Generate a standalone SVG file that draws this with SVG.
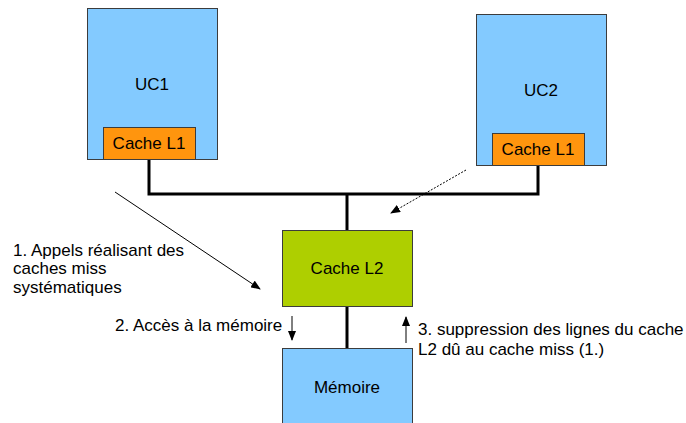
<svg xmlns="http://www.w3.org/2000/svg" width="686" height="423" viewBox="0 0 686 423">
<style>
.box{stroke:#3c3c3c;stroke-width:1}
.blue{fill:#83caff}
.orange{fill:#ff950e}
.green{fill:#aecf00}
.t{font-family:"Liberation Sans",Arial,sans-serif;font-size:17px;fill:#000}
.c{text-anchor:middle}
.bus{stroke:#000;stroke-width:3;fill:none}
.thin{stroke:#000;stroke-width:1;fill:none}
</style>
<defs>
<marker id="ah" markerWidth="10" markerHeight="8" refX="9" refY="4" orient="auto" markerUnits="userSpaceOnUse">
<path d="M0,0 L10,4 L0,8 z" fill="#000"/>
</marker>
</defs>
<g id="connectors">
<polyline class="bus" points="149,159 149,194 538,194 538,165"/>
<line class="bus" x1="347" y1="194" x2="347" y2="230"/>
<line class="bus" x1="347" y1="306" x2="347" y2="348"/>
<line class="thin" x1="115" y1="192" x2="260" y2="289" marker-end="url(#ah)"/>
<line class="thin" x1="466" y1="170" x2="391" y2="213" stroke-dasharray="2,1.5" marker-end="url(#ah)"/>
<line class="thin" x1="292" y1="316" x2="292" y2="340" marker-end="url(#ah)"/>
<line class="thin" x1="406" y1="343" x2="406" y2="317" marker-end="url(#ah)"/>
</g>
<g id="uc1">
<rect class="box blue" x="87.5" y="8.5" width="130" height="151"/>
<text class="t c" x="152" y="90">UC1</text>
</g>
<g id="l1a">
<rect class="box orange" x="103.5" y="127.5" width="92" height="32"/>
<text class="t c" x="149" y="149">Cache L1</text>
</g>
<g id="uc2">
<rect class="box blue" x="476.5" y="14.5" width="130" height="151"/>
<text class="t c" x="541" y="96">UC2</text>
</g>
<g id="l1b">
<rect class="box orange" x="492.5" y="133.5" width="92" height="32"/>
<text class="t c" x="538" y="155">Cache L1</text>
</g>
<g id="l2">
<rect class="box green" x="282.5" y="230.5" width="130" height="76"/>
<text class="t c" x="347" y="274">Cache L2</text>
</g>
<g id="mem">
<rect class="box blue" x="282.5" y="348.5" width="130" height="80"/>
<text class="t c" x="347" y="393">Mémoire</text>
</g>
<g id="labels">
<text class="t" x="13" y="256">1. Appels réalisant des</text>
<text class="t" x="13" y="274">caches miss</text>
<text class="t" x="13" y="293">systématiques</text>
<text class="t" x="115" y="331">2. Accès à la mémoire</text>
<text class="t" x="418" y="335">3. suppression des lignes du cache</text>
<text class="t" x="418" y="355">L2 dû au cache miss (1.)</text>
</g>
</svg>
